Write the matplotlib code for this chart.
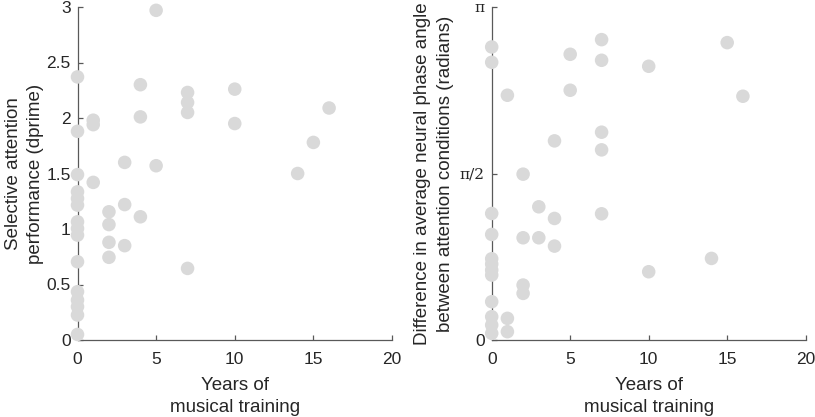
import numpy as np
import matplotlib
matplotlib.use("Agg")
import matplotlib.pyplot as plt

plt.rcParams['font.family'] = ['Liberation Sans', 'DejaVu Sans']

# left panel: years of training vs dprime
years_a = [0]*15 + [1]*3 + [2]*4 + [3]*3 + [4]*3 + [5]*2 + [7]*4 + [10]*2 + [14, 15, 16]
dprime = [2.37, 1.88, 1.49, 1.335, 1.275, 1.215, 1.065, 1.005, 0.945, 0.705,
          0.435, 0.36, 0.30, 0.225, 0.05,
          1.98, 1.94, 1.42,
          1.155, 1.04, 0.88, 0.745,
          1.60, 1.22, 0.85,
          2.30, 2.01, 1.11,
          2.97, 1.57,
          2.23, 2.14, 2.05, 0.645,
          2.26, 1.95,
          1.50, 1.78, 2.09]

# right panel: phase angle difference, as fraction of pi
years_b = [0]*12 + [1]*3 + [2]*4 + [3]*2 + [4]*3 + [5]*2 + [7]*5 + [10]*2 + [14, 15, 16]
phase_frac = [0.88, 0.834, 0.38, 0.317, 0.244, 0.228, 0.21, 0.195, 0.115, 0.07, 0.045, 0.02,
              0.735, 0.065, 0.025,
              0.498, 0.307, 0.165, 0.14,
              0.40, 0.307,
              0.598, 0.365, 0.282,
              0.858, 0.75,
              0.902, 0.84, 0.624, 0.571, 0.379,
              0.822, 0.205,
              0.245, 0.893, 0.732]
phase = np.array(phase_frac) * np.pi

dot_col = '#d9d9d9'
ax_col = '#595959'
txt_col = '#262626'

fig = plt.figure(figsize=(8.15, 4.17), dpi=100)
ax1 = fig.add_axes([77.5/815, 1-340/417, 314.5/815, 333/417])
ax2 = fig.add_axes([491.7/815, 1-340/417, 314/815, 333/417])

def style(ax):
    for s in ['top', 'right']:
        ax.spines[s].set_visible(False)
    for s in ['left', 'bottom']:
        ax.spines[s].set_color(ax_col)
        ax.spines[s].set_linewidth(0.9)
    ax.tick_params(direction='in', length=3.5, width=0.9, color=ax_col,
                   labelcolor=txt_col, labelsize=12.5)
    ax.tick_params(axis='x', pad=9)
    ax.tick_params(axis='y', pad=5)
    ax.set_xlim(0, 20)
    ax.set_xticks([0, 5, 10, 15, 20])
    ax.set_xlabel('Years of\nmusical training', fontsize=13.5, color=txt_col,
                  labelpad=7, linespacing=1.35)

ax1.scatter(years_a, dprime, s=95, c=dot_col, edgecolors='none', zorder=3, clip_on=False)
style(ax1)
ax1.set_ylim(0, 3)
ax1.set_yticks([0, 0.5, 1, 1.5, 2, 2.5, 3])
ax1.set_yticklabels(['0', '0.5', '1', '1.5', '2', '2.5', '3'])
ax1.set_ylabel('Selective attention\nperformance (dprime)', fontsize=13.5,
               color=txt_col, labelpad=1.5, linespacing=1.4)

ax2.scatter(years_b, phase, s=95, c=dot_col, edgecolors='none', zorder=3, clip_on=False)
style(ax2)
ax2.set_ylim(0, np.pi)
ax2.set_yticks([0, np.pi/2, np.pi])
ax2.set_yticklabels(['0', 'π/2', 'π'])
for lab in ax2.get_yticklabels()[1:]:
    lab.set_family('DejaVu Serif')
    lab.set_fontsize(11)
ax2.set_ylabel('Difference in average neural phase angle\nbetween attention conditions (radians)',
               fontsize=13.5, color=txt_col, labelpad=4.5, linespacing=1.4)

fig.savefig('out.png', dpi=100)
